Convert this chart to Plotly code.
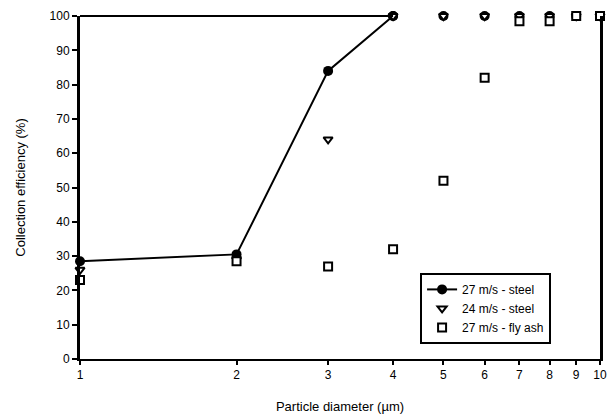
import math
import plotly.graph_objects as go

# Particle diameters (µm) and collection efficiencies (%)
diameter = [1, 2, 3, 4, 5, 6, 7, 8, 9, 10]
steel_27 = [28.5, 30.5, 84, 100, 100, 100, 100, 100, 100, 100]
steel_24 = [26, 29, 64, 100, 100, 100, 100, 100, 100, 100]
flyash_27 = [23, 28.5, 27, 32, 52, 82, 98.5, 98.5, 100, 100]

x_ticks = [1, 2, 3, 4, 5, 6, 7, 8, 9, 10]
y_ticks = list(range(0, 101, 10))

FONT = "Liberation Sans, Arial, sans-serif"

fig = go.Figure()

# 27 m/s steel: connected line through the first four points, markers everywhere
fig.add_trace(go.Scatter(
    x=diameter[:4], y=steel_27[:4], mode="lines+markers",
    name="27 m/s - steel", legendgroup="s27",
    line=dict(color="black", width=2),
    marker=dict(symbol="circle", size=10, color="black"),
    cliponaxis=False,
))
fig.add_trace(go.Scatter(
    x=diameter[3:], y=steel_27[3:], mode="markers",
    name="27 m/s - steel", legendgroup="s27", showlegend=False,
    marker=dict(symbol="circle", size=10, color="black"),
    cliponaxis=False,
))
fig.add_trace(go.Scatter(
    x=diameter, y=steel_24, mode="markers", name="24 m/s - steel",
    marker=dict(symbol="triangle-down", size=8, color="white",
                line=dict(color="black", width=2)),
    cliponaxis=False,
))
fig.add_trace(go.Scatter(
    x=diameter, y=flyash_27, mode="markers", name="27 m/s - fly ash",
    marker=dict(symbol="square", size=8, color="white",
                line=dict(color="black", width=2)),
    cliponaxis=False,
))

# Upper frame segment running from the left edge to d = 4
fig.add_shape(type="line", xref="paper", yref="paper",
              x0=0, x1=math.log10(4), y0=1, y1=1,
              line=dict(color="black", width=2))

fig.update_xaxes(
    type="log", range=[0, 1], automargin=False,
    tickvals=x_ticks, ticktext=[str(v) for v in x_ticks],
    showgrid=False, zeroline=False,
    showline=True, linecolor="black", linewidth=2,
    ticks="outside", ticklen=4, tickwidth=2, tickcolor="black",
    tickfont=dict(family=FONT, size=12, color="black"),
    title=dict(text="Particle diameter (µm)", standoff=20,
               font=dict(family=FONT, size=13, color="black")),
)
fig.update_yaxes(
    range=[0, 100], tickvals=y_ticks, automargin=False,
    showgrid=False, zeroline=False,
    showline=True, linecolor="black", linewidth=3, mirror=True,
    ticks="outside", ticklen=5, tickwidth=2, tickcolor="black",
    tickfont=dict(family=FONT, size=12, color="black"),
    title=dict(text="Collection efficiency (%)", standoff=22,
               font=dict(family=FONT, size=13, color="black")),
)

fig.update_layout(
    width=615, height=418,
    margin=dict(l=80, r=15, t=16, b=59),
    paper_bgcolor="white", plot_bgcolor="white",
    font=dict(family=FONT, color="black"),
    legend=dict(
        x=0.654, y=0.251, xanchor="left", yanchor="top",
        bgcolor="white", bordercolor="black", borderwidth=2,
        font=dict(family=FONT, size=12, color="black"),
        tracegroupgap=0, itemwidth=30,
    ),
    showlegend=True,
)

fig.write_html("out.html")
